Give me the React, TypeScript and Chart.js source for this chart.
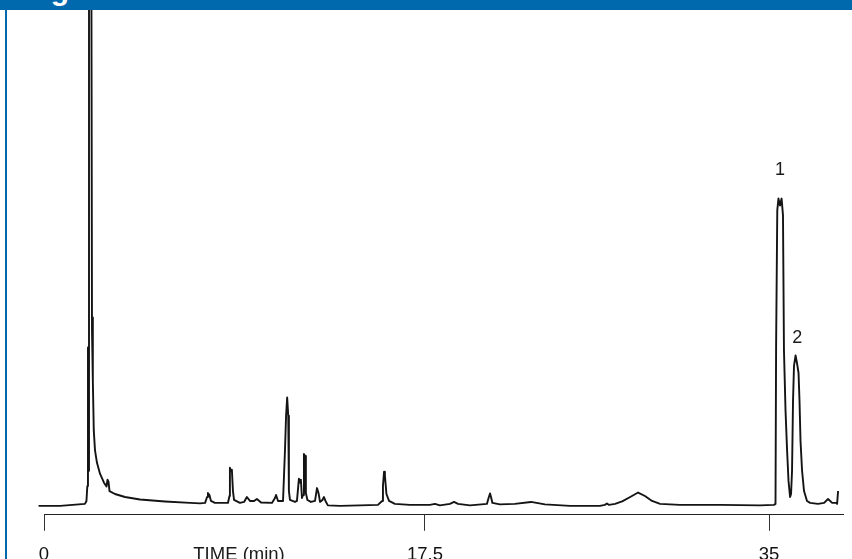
import React, { useEffect, useRef } from "react";
import { Chart, registerables, LinearScale } from "chart.js";

// ---- Data ----
const TIME_MIN: number[] = [
  // start + solvent front
  -0.28, -0.28, -0.25, 0.74, 1.88, 1.95, 1.99, 2.02, 2.04, 2.067, 2.168, 2.205, 2.237, 2.25,
  2.287, 2.343, 2.434, 2.572, 2.756, 2.87, 2.917, 2.963, 3.01, 3.26, 3.72, 4.41, 5.56, 6.71,
  // 7 - 11 min
  7.17, 7.4, 7.49, 7.53, 7.6, 7.67, 7.85, 8.45, 8.52, 8.54, 8.59, 8.63, 8.68, 8.73, 9.0, 9.19,
  9.32, 9.46, 9.65, 9.78, 9.97, 10.47, 10.61, 10.66, 10.75, 10.98,
  // 11 - 13 min cluster
  11.07, 11.12, 11.17, 11.22, 11.25, 11.3, 11.53, 11.62, 11.71, 11.76, 11.8, 11.85, 11.9, 11.94,
  11.99, 12.03, 12.1, 12.26, 12.45, 12.54, 12.61, 12.68, 12.79, 12.86, 12.93, 13.04,
  // 13.5 - 18 min
  13.6, 14.51, 15.34, 15.53, 15.57, 15.62, 15.66, 15.73, 15.85, 16.12, 16.81, 17.75,
  // 18 - 35 min
  18.01, 18.26, 18.77, 18.98, 19.18, 19.79, 20.65, 20.75, 20.81, 20.86, 20.93, 21.31, 22.07,
  22.89, 23.6, 24.88, 26.4, 26.65, 26.76, 26.86, 27.17, 27.53, 27.94, 28.34, 28.69, 29.05,
  29.46, 30.47, 32.51, 34.54, 35.25,
  // peaks 1 and 2
  35.33, 35.36, 35.42, 35.48, 35.56, 35.64, 35.71, 35.76, 35.84, 35.92, 35.99, 36.07, 36.12,
  36.17, 36.22, 36.27, 36.35, 36.42, 36.5, 36.55, 36.6, 36.68, 36.78, 36.93, 37.09, 37.49,
  37.8, 38.0, 38.21, 38.41, 38.46, 38.51,
];

const SIGNAL: number[] = [
  // start + solvent front
  2.4, -1.6, -0.2, -0.2, 0.2, 0.8, 3.8, 31.8, 6.9, 130, 130, 35.2, 37.9, 25.1,
  15, 11, 8.5, 6.3, 4.5, 3.7, 5.1, 4.7, 2.8, 2.2, 1.6, 1.1, 0.7, 0.4,
  // 7 - 11 min
  0.3, 0.4, 1.6, 2.4, 2.0, 0.8, 0.4, 0.4, 1.8, 7.5, 6.9, 7.1, 2.8, 1.0, 0.4, 0.6,
  1.6, 0.8, 0.8, 1.2, 0.5, 0.4, 1.4, 2.0, 0.8, 0.8,
  // 11 - 13 min cluster
  11.1, 18.0, 21.7, 18.0, 2.8, 1.0, 0.6, 0.8, 5.3, 4.5, 5.1, 1.4, 2.0, 10.3,
  9.9, 2.4, 1.0, 0.6, 0.8, 3.4, 2.4, 0.6, 1.0, 1.6, 0.8, -0.1,
  // 13.5 - 18 min
  -0.2, -0.1, 0, 0.8, 3.8, 6.7, 5.9, 2.2, 0.8, 0.2, 0, 0,
  // 18 - 35 min
  0.2, -0.1, 0.2, 0.6, 0.2, -0.1, 0.2, 1.6, 2.3, 1.6, 0.4, 0.1, 0.2,
  0.6, 0.1, -0.2, -0.2, 0, 0.3, 0, 0.2, 0.7, 1.6, 2.5, 1.8, 0.8,
  0.2, 0, 0, -0.1, 0,
  // peaks 1 and 2
  0.2, 31.8, 59.5, 61.9, 60.5, 61.9, 58.5, 31.2, 19.0, 10.9, 4.9, 1.6, 2.2,
  6.9, 21.0, 28.1, 30.2, 28.7, 26.7, 21.0, 13.0, 6.9, 2.8, 0.8, 0.4, 0.2,
  0.4, 1.2, 0.4, 0.4, 0.2, 2.8,
];

const X_TICKS: number[] = [0, 17.5, 35];
const X_TITLE = "TIME (min)";
const X_TITLE_AT_MIN = 8.96;

const PEAK_NAMES: string[] = ["1", "2"];
const PEAK_LABEL_TIME: number[] = [35.56, 36.43];
const PEAK_LABEL_SIGNAL: number[] = [67.6, 33.8];

// Calibration of the (non-uniform) time axis of the original figure
const X_CAL_VALUES: number[] = [0, 17.5, 35, 38.76];
const X_CAL_FRACTIONS: number[] = [0, 0.4768, 0.9074, 1];

function toFrac(v: number): number {
  const V = X_CAL_VALUES, F = X_CAL_FRACTIONS;
  let i = 0;
  if (v <= V[0]) i = 0;
  else if (v >= V[V.length - 1]) i = V.length - 2;
  else {
    while (i < V.length - 2 && v > V[i + 1]) i++;
  }
  return F[i] + ((v - V[i]) / (V[i + 1] - V[i])) * (F[i + 1] - F[i]);
}
function fromFrac(f: number): number {
  const V = X_CAL_VALUES, F = X_CAL_FRACTIONS;
  let i = 0;
  if (f <= F[0]) i = 0;
  else if (f >= F[F.length - 1]) i = F.length - 2;
  else {
    while (i < F.length - 2 && f > F[i + 1]) i++;
  }
  return V[i] + ((f - F[i]) / (F[i + 1] - F[i])) * (V[i + 1] - V[i]);
}

class PiecewiseLinearScale extends LinearScale {
  static id = "piecewiseLinear";
  static defaults = LinearScale.defaults;
  getPixelForValue(value: any) {
    if (value === null || value === undefined || isNaN(value)) return NaN;
    return (this as any).getPixelForDecimal(toFrac(value));
  }
  getValueForPixel(pixel: number) {
    return fromFrac((this as any).getDecimalForPixel(pixel));
  }
}

Chart.register(...registerables, PiecewiseLinearScale as any);

const FONT = '"Liberation Sans", Arial, Helvetica, sans-serif';
const BLUE = "#0069AD";

const annotationsPlugin = {
  id: "chromAnnotations",
  afterDraw(chart: any) {
    const ctx = chart.ctx;
    const xs = chart.scales.x;
    const ys = chart.scales.y;
    ctx.save();
    ctx.fillStyle = "#1a1a1a";
    ctx.font = `18px ${FONT}`;
    ctx.textAlign = "center";
    ctx.textBaseline = "middle";
    PEAK_NAMES.forEach((n, i) => {
      ctx.fillText(n, xs.getPixelForValue(PEAK_LABEL_TIME[i]), ys.getPixelForValue(PEAK_LABEL_SIGNAL[i]));
    });
    const items = xs.getLabelItems ? xs.getLabelItems() : null;
    if (items && items.length) {
      const it = items[0];
      ctx.font = `18.5px ${FONT}`;
      ctx.textBaseline = it.options.textBaseline;
      ctx.fillText(X_TITLE, xs.getPixelForValue(X_TITLE_AT_MIN), it.options.translation[1] + (it.textOffset || 0));
    }
    ctx.restore();
  },
};

export default function App() {
  const ref = useRef<HTMLCanvasElement>(null);
  useEffect(() => {
    if (!ref.current) return;
    const n = Math.min(TIME_MIN.length, SIGNAL.length);
    const pts = [];
    for (let i = 0; i < n; i++) pts.push({ x: TIME_MIN[i], y: SIGNAL[i] });
    const chart = new Chart(ref.current, {
      type: "line",
      data: {
        datasets: [
          {
            data: pts,
            borderColor: "#141414",
            borderWidth: 1.9,
            pointRadius: 0,
            tension: 0,
            fill: false,
            clip: false as any,
            borderJoinStyle: "round",
          } as any,
        ],
      },
      options: {
        animation: false,
        responsive: false,
        events: [],
        layout: { padding: { left: 44, right: 9, top: 0, bottom: 0 } },
        plugins: { legend: { display: false }, tooltip: { enabled: false } },
        scales: {
          x: {
            type: "piecewiseLinear" as any,
            min: 0,
            max: 38.76,
            afterBuildTicks: (scale: any) => {
              scale.ticks = X_TICKS.map((v) => ({ value: v }));
            },
            grid: { display: true, drawOnChartArea: false, drawTicks: true, tickLength: 16, tickColor: "#333", tickWidth: 1 },
            border: { display: true, color: "#222", width: 1 },
            ticks: {
              autoSkip: false,
              maxRotation: 0,
              padding: 13,
              color: "#111",
              font: { family: FONT, size: 18.5 },
              callback: (v: any) => String(v),
            },
          } as any,
          y: { display: false, min: -2, max: 100 },
        },
      },
      plugins: [annotationsPlugin],
    });
    return () => chart.destroy();
  }, []);

  return (
    <div style={{ position: "fixed", left: 0, top: 0, width: 852, height: 559, overflow: "hidden", background: "#fff" }}>
      <canvas ref={ref} width={852} height={569} style={{ position: "absolute", left: 0, top: 10, width: 852, height: 569 }} />
      <div style={{ position: "absolute", left: 0, top: 0, width: 852, height: 10, background: BLUE, overflow: "hidden", zIndex: 2 }}>
        <span style={{ position: "absolute", left: 24, top: -25, fontFamily: FONT, fontWeight: "bold", fontSize: 30, lineHeight: 1, color: "#fff", whiteSpace: "nowrap" }}>
          Figure
        </span>
      </div>
      <div style={{ position: "absolute", left: 5, top: 10, width: 2, height: 549, background: BLUE, zIndex: 2 }} />
    </div>
  );
}
